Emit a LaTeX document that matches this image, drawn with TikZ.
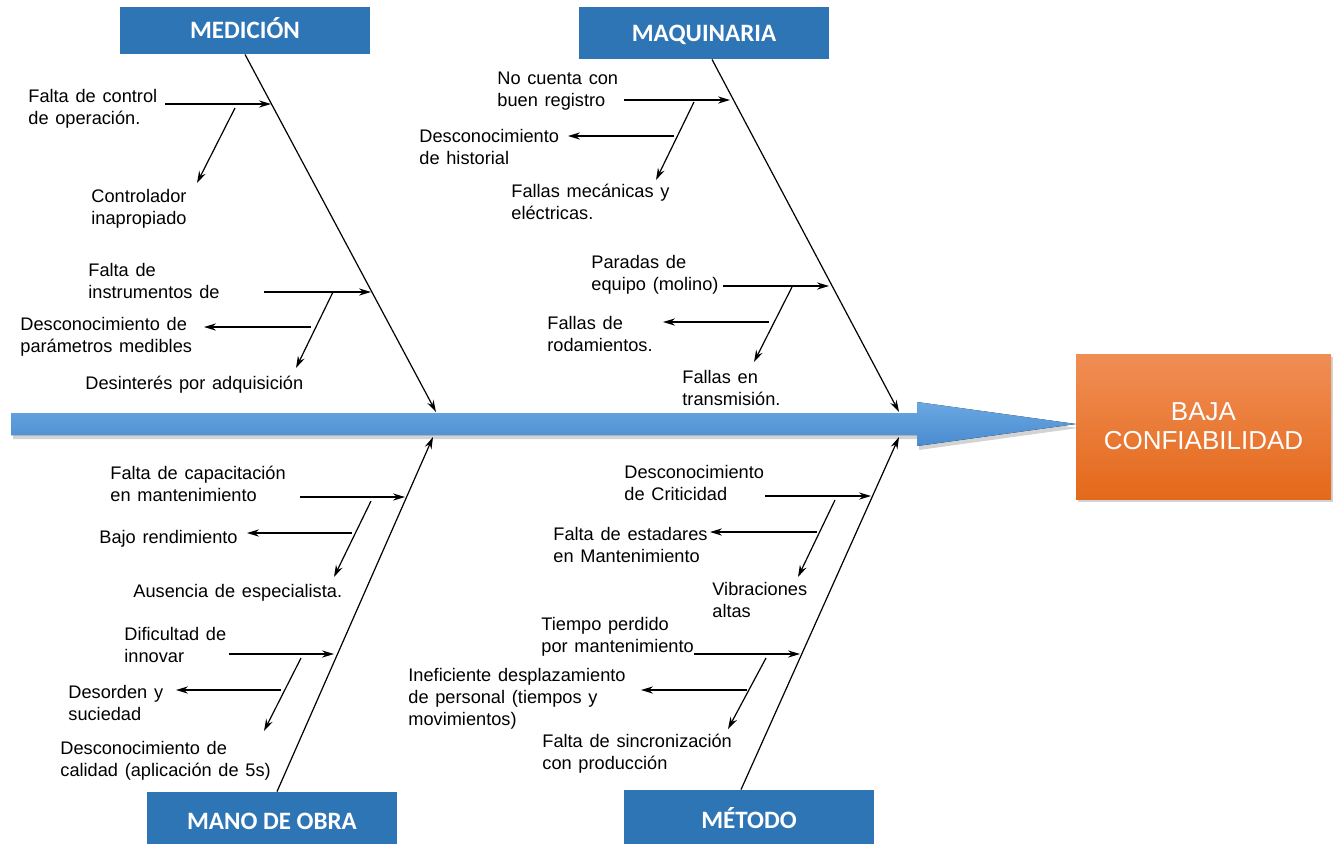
\documentclass[tikz,border=0pt]{standalone}
\usepackage{fontspec}
\setmainfont{Liberation Sans}
\newfontfamily\boxfont{Carlito}
\usetikzlibrary{arrows.meta,shadows}
\definecolor{catblue}{HTML}{2E75B6}
\definecolor{spinetop}{HTML}{6AA8E2}
\definecolor{spinebot}{HTML}{4A8BD0}
\definecolor{efftop}{HTML}{F08E55}
\definecolor{effbot}{HTML}{E4691B}
\newcommand\lblfont{\fontsize{9.1}{11}\selectfont\spaceskip=0.37em\relax}
\begin{document}
\begin{tikzpicture}[x=0.5pt,y=-0.5pt]
        \tikzset{cat/.style={fill=catblue,text=white,minimum width=125pt,inner sep=0,text height=8pt,text depth=0pt,font=\boxfont\bfseries\fontsize{12.5}{15}\selectfont},
                 effect/.style={top color=efftop,bottom color=effbot,text=white,minimum width=127.5pt,minimum height=72.5pt,align=center,inner sep=0,font=\fontsize{13}{14.5}\selectfont,drop shadow={opacity=0.35,shadow xshift=1pt,shadow yshift=-1.5pt}},
                 lbl/.style={anchor=north west,inner sep=0,align=left,font=\lblfont,execute at begin node=\strut},
                 sub/.style={line width=0.6pt,-{Stealth[length=6pt,width=3.6pt,inset=2pt]}},
                 bone/.style={sub}};
        \useasboundingbox (0,0) rectangle (1339,843);
        % categories and effect
        \node[cat,minimum height=23.5pt] (med) at (245,30.5) {MEDICIÓN};
        \node[cat,minimum height=26pt] (maq) at (704,33) {MAQUINARIA};
        \node[cat,minimum height=29pt] (mob) at (272,821) {MANO DE OBRA};
        \node[cat,minimum height=30pt] (met) at (749,820) {MÉTODO};
        \node[effect] (ef) at (1203.5,426.5) {BAJA\\CONFIABILIDAD};
        % spine
        \coordinate (tip) at (1076,424);
        \fill[top color=spinetop,bottom color=spinebot,drop shadow={opacity=0.35,shadow xshift=1pt,shadow yshift=-2pt}] (11,413) -- (917,413) -- (917,402) -- (tip) -- (917,446) -- (917,435) -- (11,435) -- cycle;
        % main bones
        \coordinate (mb) at (436,412);
        \coordinate (qb) at (899,412);
        \coordinate (ob) at (433,437);
        \coordinate (tb) at (899,437);
        \draw[bone] (med.south) -- (mb);
        \draw[bone] ([xshift=4pt]maq.south) -- (qb);
        \draw[bone] ([xshift=2.5pt]mob.north) -- (ob);
        \draw[bone] ([xshift=-4pt]met.north) -- (tb);
        % medicion
        \node[lbl] (fc) at (28,88.6) {Falta de control\\de operación.};
        \node[lbl] (ci) at (91,188.6) {Controlador\\inapropiado};
        \node[lbl] (fi) at (88,262.6) {Falta de\\instrumentos de};
        \node[lbl] (dp) at (20,316.6) {Desconocimiento de\\parámetros medibles};
        \node[lbl] (da) at (85,373.6) {Desinterés por adquisición};
        \coordinate (m1a) at (165,104); \coordinate (m1b) at (271,104); \draw[sub] (m1a) -- (m1b);
        \coordinate (m2a) at (235,108); \coordinate (m2b) at (197,183); \draw[sub] (m2a) -- (m2b);
        \coordinate (m3a) at (264,292); \coordinate (m3b) at (371,292); \draw[sub] (m3a) -- (m3b);
        \coordinate (m4a) at (311,327); \coordinate (m4b) at (204,327); \draw[sub] (m4a) -- (m4b);
        \coordinate (m5a) at (333,292); \coordinate (m5b) at (296,368); \draw[sub] (m5a) -- (m5b);
        % maquinaria
        \node[lbl] (nc) at (497,71.6) {No cuenta con\\buen registro};
        \node[lbl] (dh) at (419,128.6) {Desconocimiento\\de historial};
        \node[lbl] (fm) at (511,183.6) {Fallas mecánicas y\\eléctricas.};
        \node[lbl] (pe) at (591,254.6) {Paradas de\\equipo (molino)};
        \node[lbl] (fr) at (547,315.6) {Fallas de\\rodamientos.};
        \node[lbl] (ft) at (682,369.6) {Fallas en\\transmisión.};
        \coordinate (q1a) at (624,100); \coordinate (q1b) at (730,100); \draw[sub] (q1a) -- (q1b);
        \coordinate (q2a) at (674,136); \coordinate (q2b) at (568,136); \draw[sub] (q2a) -- (q2b);
        \coordinate (q3a) at (694,102); \coordinate (q3b) at (656,180); \draw[sub] (q3a) -- (q3b);
        \coordinate (q4a) at (723,286); \coordinate (q4b) at (829,286); \draw[sub] (q4a) -- (q4b);
        \coordinate (q5a) at (769,322); \coordinate (q5b) at (663,322); \draw[sub] (q5a) -- (q5b);
        \coordinate (q6a) at (792,287); \coordinate (q6b) at (754,362); \draw[sub] (q6a) -- (q6b);
        % mano de obra
        \node[lbl] (fk) at (110,465.6) {Falta de capacitación\\en mantenimiento};
        \node[lbl] (br) at (99,527.6) {Bajo rendimiento};
        \node[lbl] (ae) at (133,581.6) {Ausencia de especialista.};
        \node[lbl] (di) at (124,626.6) {Dificultad de\\innovar};
        \node[lbl] (ds) at (68,684.6) {Desorden y\\suciedad};
        \node[lbl] (dc) at (60,740.6) {Desconocimiento de\\calidad (aplicación de 5s)};
        \coordinate (o1a) at (300,497); \coordinate (o1b) at (405,497); \draw[sub] (o1a) -- (o1b);
        \coordinate (o2a) at (352,533); \coordinate (o2b) at (247,533); \draw[sub] (o2a) -- (o2b);
        \coordinate (o3a) at (371,501); \coordinate (o3b) at (334,577); \draw[sub] (o3a) -- (o3b);
        \coordinate (o4a) at (229,654); \coordinate (o4b) at (334,654); \draw[sub] (o4a) -- (o4b);
        \coordinate (o5a) at (281,690); \coordinate (o5b) at (176,690); \draw[sub] (o5a) -- (o5b);
        \coordinate (o6a) at (301,658); \coordinate (o6b) at (264,731); \draw[sub] (o6a) -- (o6b);
        % metodo
        \node[lbl] (dr) at (624,464.6) {Desconocimiento\\de Criticidad};
        \node[lbl] (fe) at (553,526.6) {Falta de estadares\\en Mantenimiento};
        \node[lbl] (va) at (712,581.6) {Vibraciones\\altas};
        \node[lbl] (tp) at (541,616.6) {Tiempo perdido\\por mantenimiento};
        \node[lbl] (id) at (408,667.6) {Ineficiente desplazamiento\\de personal (tiempos y\\movimientos)};
        \node[lbl] (fs) at (542,733.6) {Falta de sincronización\\con producción};
        \coordinate (t1a) at (765,496); \coordinate (t1b) at (871,496); \draw[sub] (t1a) -- (t1b);
        \coordinate (t2a) at (817,532); \coordinate (t2b) at (710,532); \draw[sub] (t2a) -- (t2b);
        \coordinate (t3a) at (835,500); \coordinate (t3b) at (798,577); \draw[sub] (t3a) -- (t3b);
        \coordinate (t4a) at (694,654); \coordinate (t4b) at (800,654); \draw[sub] (t4a) -- (t4b);
        \coordinate (t5a) at (747,690); \coordinate (t5b) at (641,690); \draw[sub] (t5a) -- (t5b);
        \coordinate (t6a) at (766,658); \coordinate (t6b) at (728,729); \draw[sub] (t6a) -- (t6b);
    \end{tikzpicture}
\end{document}
